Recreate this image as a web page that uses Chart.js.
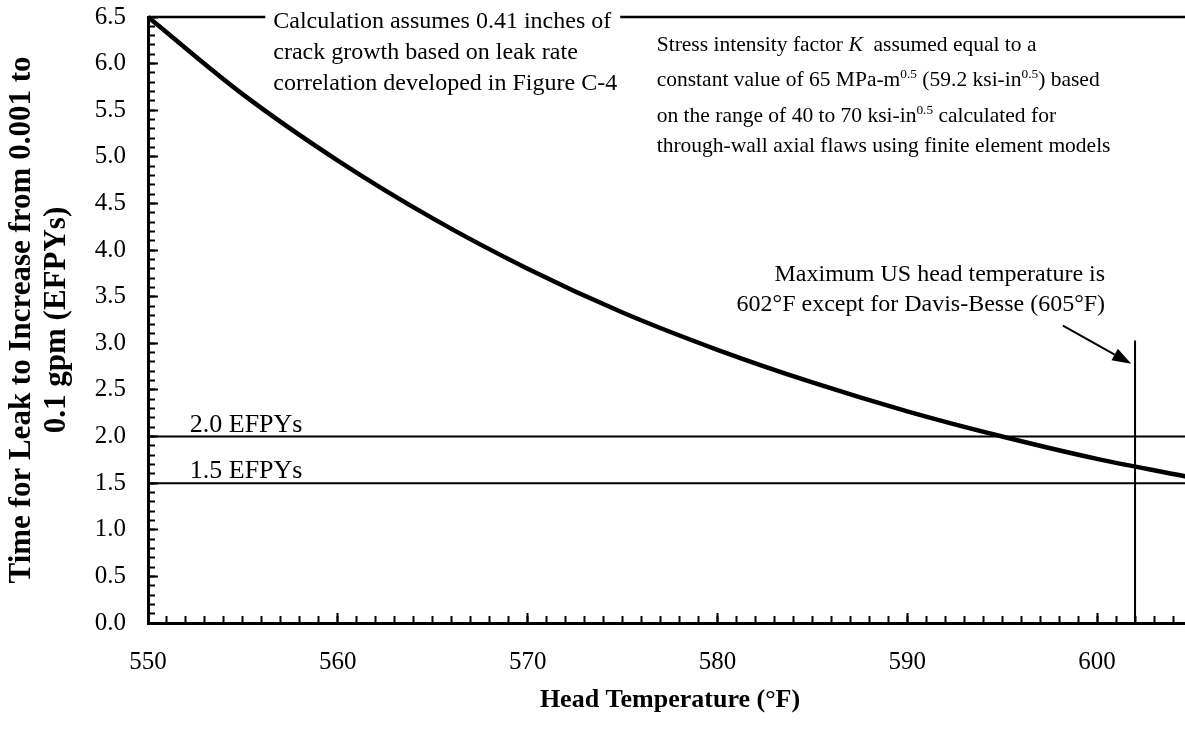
<!DOCTYPE html>
<html>
<head>
<meta charset="utf-8">
<script src="https://cdn.jsdelivr.net/npm/chart.js@4.4.1/dist/chart.umd.min.js"></script>
<style>
  html, body { margin: 0; padding: 0; background: #fff; overflow: hidden; }
  #wrap { width: 1185px; height: 729px; overflow: hidden; }
</style>
</head>
<body>
<div id="wrap"><canvas id="chart" width="1200" height="729"></canvas></div>
<script>
'use strict';

const SERIF = '"Liberation Serif", "Times New Roman", serif';

// head temperature (°F) vs. time for the leak to grow from 0.001 to 0.1 gpm (EFPYs)
const temps = [550, 555, 560, 565, 570, 575, 580, 585, 590, 595, 600, 605];
const efpys = [6.50, 5.67, 4.96, 4.34, 3.80, 3.33, 2.93, 2.58, 2.27, 2.00, 1.76, 1.56];

const xRange = [550, 605];
const yRange = [0, 6.5];

// reference levels drawn across the plot
const refLevels = [2.0, 1.5];
const refLabels = ['2.0 EFPYs', '1.5 EFPYs'];

// max US head temperature marker
const maxHeadTemp = 602;
const maxHeadTop = 3.03;
const arrowFrom = [598.2, 3.19];
const arrowTo = [601.8, 2.78];

const calcNote = [
  'Calculation assumes 0.41 inches of',
  'crack growth based on leak rate',
  'correlation developed in Figure C-4'
];
const stressNote = [
  [{t: 'Stress intensity factor '}, {t: 'K', it: true}, {t: '  assumed equal to a'}],
  [{t: 'constant value of 65 MPa-m'}, {t: '0.5', sup: true}, {t: ' (59.2 ksi-in'}, {t: '0.5', sup: true}, {t: ') based'}],
  [{t: 'on the range of 40 to 70 ksi-in'}, {t: '0.5', sup: true}, {t: ' calculated for'}],
  [{t: 'through-wall axial flaws using finite element models'}]
];
const maxTempNote = [
  'Maximum US head temperature is',
  '602°F except for Davis-Besse (605°F)'
];

const line = (pts, width) => ({
  data: pts.map(([x, y]) => ({x, y})),
  borderColor: '#000',
  borderWidth: width,
  pointRadius: 0,
  fill: false,
  clip: false
});

const datasets = [
  Object.assign(line(temps.map((t, i) => [t, efpys[i]]), 4.5), {cubicInterpolationMode: 'monotone'}),
  line([[xRange[0], yRange[1]], [xRange[1], yRange[1]]], 2.5),
  ...refLevels.map(v => line([[xRange[0], v], [xRange[1], v]], 2)),
  line([[maxHeadTemp, 0], [maxHeadTemp, maxHeadTop]], 2)
];

function drawRich(ctx, x, y, parts, size) {
  for (const p of parts) {
    const fs = p.sup ? size * 0.62 : size;
    ctx.font = `${p.it ? 'italic ' : ''}${fs}px ${SERIF}`;
    ctx.fillText(p.t, x, p.sup ? y - size * 0.38 : y);
    x += ctx.measureText(p.t).width;
  }
}

const notes = {
  id: 'notes',
  afterDatasetsDraw(chart) {
    const {ctx, scales: {x, y}} = chart;
    ctx.save();
    ctx.fillStyle = '#000';
    ctx.textBaseline = 'alphabetic';
    ctx.textAlign = 'left';

    // leak rate note, sitting on the top line
    let px = x.getPixelForValue(556.6);
    let py = y.getPixelForValue(yRange[1]);
    ctx.font = `24px ${SERIF}`;
    const w0 = ctx.measureText(calcNote[0]).width;
    ctx.fillStyle = '#fff';
    ctx.fillRect(px - 8, py - 5, w0 + 17, 10);
    ctx.fillStyle = '#000';
    calcNote.forEach((s, i) => ctx.fillText(s, px, py + 11 + i * 31));

    // stress intensity note
    px = x.getPixelForValue(576.8);
    py = y.getPixelForValue(6.13);
    [0, 35, 71, 101].forEach((dy, i) => drawRich(ctx, px, py + dy, stressNote[i], 21.5));

    // reference level labels
    ctx.font = `26px ${SERIF}`;
    refLevels.forEach((v, i) => ctx.fillText(refLabels[i], x.getPixelForValue(552.2), y.getPixelForValue(v) - 5));

    // max head temperature note and arrow
    ctx.font = `24px ${SERIF}`;
    ctx.textAlign = 'right';
    px = x.getPixelForValue(600.42);
    py = y.getPixelForValue(3.67);
    maxTempNote.forEach((s, i) => ctx.fillText(s, px, py + i * 30));

    const ax0 = x.getPixelForValue(arrowFrom[0]), ay0 = y.getPixelForValue(arrowFrom[1]);
    const ax1 = x.getPixelForValue(arrowTo[0]), ay1 = y.getPixelForValue(arrowTo[1]);
    const ang = Math.atan2(ay1 - ay0, ax1 - ax0);
    const hl = 19, hw = 6.5;
    ctx.strokeStyle = '#000';
    ctx.lineWidth = 2;
    ctx.beginPath();
    ctx.moveTo(ax0, ay0);
    ctx.lineTo(ax1 - Math.cos(ang) * hl, ay1 - Math.sin(ang) * hl);
    ctx.stroke();
    ctx.beginPath();
    ctx.moveTo(ax1, ay1);
    ctx.lineTo(ax1 - Math.cos(ang) * hl - Math.sin(ang) * hw, ay1 - Math.sin(ang) * hl + Math.cos(ang) * hw);
    ctx.lineTo(ax1 - Math.cos(ang) * hl + Math.sin(ang) * hw, ay1 - Math.sin(ang) * hl - Math.cos(ang) * hw);
    ctx.closePath();
    ctx.fill();
    ctx.restore();
  }
};

const tickGrid = len => ({
  display: true,
  drawOnChartArea: false,
  drawTicks: true,
  tickLength: len,
  tickWidth: 2,
  tickColor: '#000'
});

// fixed axis boxes, so the label padding doesn't push the plot area around
const fixBox = (w, h) => s => {
  if (w !== null) s.width = w;
  if (h !== null) s.height = h;
  s.paddingTop = 0;
  s.paddingBottom = 0;
};

const config = {
  type: 'line',
  data: {datasets},
  options: {
    responsive: false,
    animation: false,
    events: [],
    layout: {padding: {left: 0, top: 17, right: 8, bottom: 0}},
    plugins: {legend: {display: false}, tooltip: {enabled: false}},
    scales: {
      x: {
        type: 'linear', position: 'bottom', weight: 1,
        min: xRange[0], max: xRange[1],
        ticks: {
          stepSize: 10, includeBounds: false, autoSkip: false, maxRotation: 0,
          padding: 34, color: '#000',
          font: {family: SERIF, size: 25},
          callback: v => v.toFixed(0)
        },
        grid: tickGrid(-10),
        border: {display: true, width: 3, color: '#000'},
        title: {
          display: true, text: 'Head Temperature (°F)', color: '#000',
          font: {family: SERIF, size: 26, weight: 'bold'},
          padding: {top: 0, bottom: 13}
        },
        afterFit: fixBox(null, 106)
      },
      xMinor: {
        type: 'linear', position: 'bottom', weight: 0,
        min: xRange[0], max: xRange[1],
        ticks: {display: false, stepSize: 1, maxTicksLimit: 1000},
        grid: tickGrid(-7),
        border: {display: false},
        afterFit: fixBox(null, 0)
      },
      y: {
        type: 'linear', position: 'left', weight: 1,
        min: yRange[0], max: yRange[1],
        ticks: {
          stepSize: 0.5, padding: 32, color: '#000',
          font: {family: SERIF, size: 25},
          callback: v => v.toFixed(1)
        },
        grid: tickGrid(-10),
        border: {display: true, width: 3, color: '#000'},
        title: {
          display: true, color: '#000',
          text: ['Time for Leak to Increase from 0.001 to', '0.1 gpm (EFPYs)'],
          font: {family: SERIF, size: 31, weight: 'bold', lineHeight: 1.12},
          padding: {top: 5}
        },
        afterFit: fixBox(148, null)
      },
      yMinor: {
        type: 'linear', position: 'left', weight: 0,
        min: yRange[0], max: yRange[1],
        ticks: {display: false, stepSize: 0.1, maxTicksLimit: 1000},
        grid: tickGrid(-7),
        border: {display: false},
        afterFit: fixBox(0, null)
      }
    }
  },
  plugins: [notes]
};

const chart = new Chart(document.getElementById('chart').getContext('2d'), config);
</script>
</body>
</html>
